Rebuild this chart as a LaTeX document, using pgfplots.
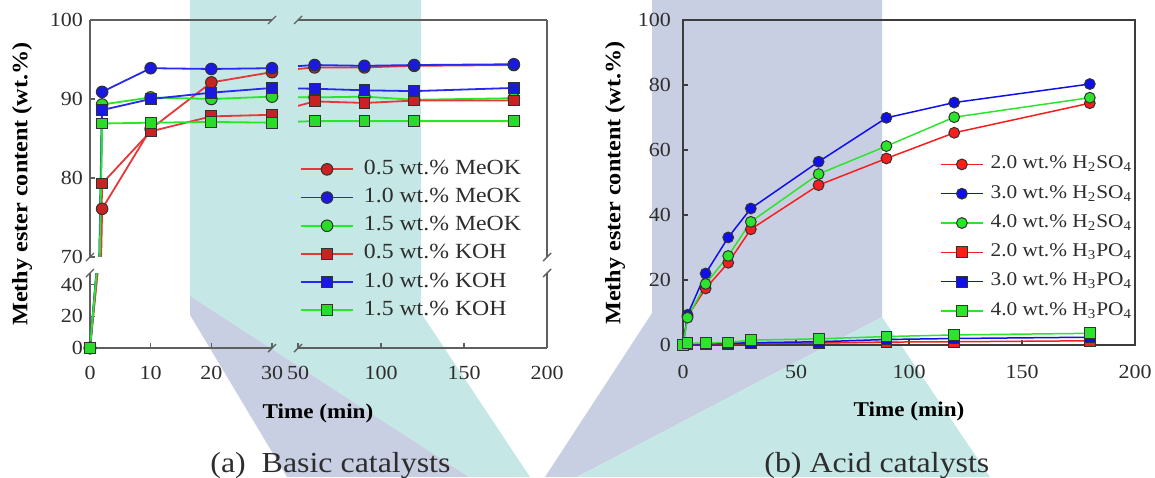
\documentclass[border=0pt]{standalone}
\usepackage{pgfplots}
\pgfplotsset{compat=1.18}
\usepackage{pgfplotstable}
\usepackage{fontspec}
\setmainfont{Liberation Serif}[FakeStretch=1.1]

\definecolor{wmTeal}{RGB}{197,232,230}
\definecolor{wmLav}{RGB}{201,207,226}
\definecolor{axA}{RGB}{95,95,95}
\definecolor{axB}{RGB}{60,60,60}
\definecolor{tickc}{RGB}{45,45,45}
\definecolor{mkd}{RGB}{50,50,50}
\definecolor{lnR}{RGB}{232,55,55}
\definecolor{fR}{RGB}{200,35,35}
\definecolor{lnB}{RGB}{40,40,240}
\definecolor{fB}{RGB}{25,25,225}
\definecolor{lnG}{RGB}{40,230,40}
\definecolor{fG}{RGB}{40,220,40}
\definecolor{bR}{RGB}{248,30,30}
\definecolor{bB}{RGB}{15,15,235}
\definecolor{bG}{RGB}{45,228,45}

\pgfplotstableread{
t m05 m10 m15 k05 k10 k15
0 0 0 0 0 0 0
2 76.1 90.9 89.3 79.3 88.6 86.9
10 86.2 93.9 90.2 85.9 90.0 87.0
20 92.1 93.8 90.0 87.8 90.8 87.1
30 93.4 93.9 90.3 88.0 91.4 87.0
60 94.0 94.3 90.2 89.7 91.3 87.2
90 94.0 94.2 90.3 89.5 91.1 87.2
120 94.2 94.3 89.9 89.8 91.0 87.2
180 94.3 94.4 90.1 89.8 91.4 87.2
}\dataA

\pgfplotstableread{
t s2 s3 s4 p2 p3 p4
0 0 0 0 0 0 0
2 8.8 9.3 8.4 0.2 0.3 0.5
10 17.4 22.0 18.8 0.3 0.4 0.6
20 25.3 33.1 27.4 0.4 0.5 0.8
30 35.6 42.0 37.9 0.5 0.7 1.5
60 49.2 56.4 52.6 0.6 1.0 1.9
90 57.4 69.9 61.2 0.9 1.7 2.6
120 65.3 74.6 70.1 1.0 2.0 3.1
180 74.4 80.3 76.1 1.3 2.4 3.6
}\dataB

\pgfplotsset{
  /pgf/number format/assume math mode=true,
  base/.style={scale only axis, anchor=south west,
    axis line style={draw=none}, tick align=inside, major tick length=2.5pt,
    tick style={draw=axA, line width=0.6pt},
    xtick pos=left, ytick pos=left,
    ticklabel style={font=\fontsize{10}{12}\selectfont, text=tickc},
    xticklabel style={yshift=-5.5pt},
    clip marker paths=false},
}

\newcommand\serA[5]{%
  \addplot[#2, line width=0.9pt, no markers, forget plot] table[x=t,y=#1]{\dataA};
  \addplot[rng, only marks, forget plot, mark=#4, mark size=#5,
    mark options={fill=#3, draw=mkd, line width=0.5pt}] table[x=t,y=#1]{\dataA};
}
\newcommand\allA{%
  \serA{m05}{lnR}{fR}{*}{2.9pt}
  \serA{m10}{lnB}{fB}{*}{2.9pt}
  \serA{m15}{lnG}{fG}{*}{2.9pt}
  \serA{k05}{lnR}{fR}{square*}{2.7pt}
  \serA{k10}{lnB}{fB}{square*}{2.7pt}
  \serA{k15}{lnG}{fG}{square*}{2.7pt}
}

\begin{document}
\begin{tikzpicture}
\useasboundingbox (0,0) rectangle (577.5pt,-238.5pt);
% background watermark
\begin{scope}[x=0.5pt,y=-0.5pt]
\fill[wmTeal] (190,0) -- (421,0) -- (421,313) -- (530,477) -- (469,477) -- (190,296) -- cycle;
\fill[wmLav] (190,296) -- (469,477) -- (287,477) -- (190,315) -- cycle;
\fill[wmLav] (652,0) -- (882,0) -- (882,317) -- (577,477) -- (545,477) -- (652,313) -- cycle;
\fill[wmTeal] (882,317) -- (990,477) -- (577,477) -- cycle;
% frame of panel (a) with breaks
\begin{scope}[draw=axA, line width=0.7pt]
\draw (90,20) -- (90,257); \draw (90,273) -- (90,348);
\draw (90,20) -- (272,20); \draw (298,20) -- (547,20);
\draw (90,348) -- (272,348); \draw (298,348) -- (547,348);
\draw (547,20) -- (547,257); \draw (547,273) -- (547,348);
\foreach \p in {(272,20),(298,20),(272,348),(298,348),(90,257),(90,273),(547,257),(547,273)}
  \draw \p ++(-4,4) -- ++(8,-8);
\end{scope}
\end{scope}

% (a) top-left
\begin{axis}[base, at={(45pt,-128.5pt)}, width=91pt, height=118.5pt,
  xmin=0, xmax=30, ymin=70, ymax=100, xtick=\empty, ytick={70,80,90,100},
  rng/.style={restrict x to domain=0:30, restrict y to domain=70:100}]
\allA
\end{axis}
% (a) bottom-left
\begin{axis}[base, at={(45pt,-174pt)}, width=91pt, height=37.5pt,
  xmin=0, xmax=30, ymin=0, ymax=47.5, xtick={0,10,20,30}, ytick={0,20,40},
  rng/.style={restrict x to domain=0:30, restrict y to domain=0:47.5}]
\allA
\end{axis}
% (a) top-right
\begin{axis}[base, at={(149pt,-128.5pt)}, width=124.5pt, height=118.5pt,
  xmin=50, xmax=200, ymin=70, ymax=100, xtick=\empty, ytick=\empty,
  rng/.style={restrict x to domain=50:200, restrict y to domain=70:100},
  legend image code/.code={\draw[mark repeat=2,mark phase=2,#1] plot coordinates {(0pt,0pt) (13pt,0pt) (26pt,0pt)};},
  legend cell align=left,
  legend style={draw=none, fill=none, inner sep=0pt, at={(0.007,0.431)}, anchor=north west,
    font=\fontsize{10.8}{13}\selectfont, text=tickc, row sep=0pt,
    nodes={inner sep=1.5pt, text height=8pt, text depth=3.1pt},
    /tikz/every odd column/.append style={column sep=3.5pt}}]
\allA
\addlegendimage{lnR, line width=0.9pt, mark=*, mark size=2.9pt, mark options={fill=fR, draw=mkd, line width=0.5pt}}
\addlegendentry{0.5 wt.\% MeOK}
\addlegendimage{lnB, line width=0.9pt, mark=*, mark size=2.9pt, mark options={fill=fB, draw=mkd, line width=0.5pt}}
\addlegendentry{1.0 wt.\% MeOK}
\addlegendimage{lnG, line width=0.9pt, mark=*, mark size=2.9pt, mark options={fill=fG, draw=mkd, line width=0.5pt}}
\addlegendentry{1.5 wt.\% MeOK}
\addlegendimage{lnR, line width=0.9pt, mark=square*, mark size=2.7pt, mark options={fill=fR, draw=mkd, line width=0.5pt}}
\addlegendentry{0.5 wt.\% KOH}
\addlegendimage{lnB, line width=0.9pt, mark=square*, mark size=2.7pt, mark options={fill=fB, draw=mkd, line width=0.5pt}}
\addlegendentry{1.0 wt.\% KOH}
\addlegendimage{lnG, line width=0.9pt, mark=square*, mark size=2.7pt, mark options={fill=fG, draw=mkd, line width=0.5pt}}
\addlegendentry{1.5 wt.\% KOH}
\end{axis}
% (a) bottom-right
\begin{axis}[base, at={(149pt,-174pt)}, width=124.5pt, height=37.5pt,
  xmin=50, xmax=200, ymin=0, ymax=47.5, xtick={50,100,150,200}, ytick=\empty]
\end{axis}

% (b)
\begin{axis}[base, at={(341.5pt,-172.5pt)}, width=226pt, height=162.5pt,
  xmin=0, xmax=200, ymin=0, ymax=100, xtick={0,50,100,150,200}, ytick={0,20,40,60,80,100},
  axis line style={draw=axB, line width=0.7pt}, tick style={draw=axB, line width=0.6pt},
  xticklabel style={yshift=-1pt}, yticklabel style={xshift=-2.5pt},
  legend image code/.code={\draw[mark repeat=2,mark phase=2,#1] plot coordinates {(0pt,0pt) (10.5pt,0pt) (21pt,0pt)};},
  legend cell align=left,
  legend style={draw=none, fill=none, inner sep=0pt, at={(0.568,0.602)}, anchor=north west,
    font=\fontsize{9.7}{12}\selectfont, text=tickc, row sep=0pt,
    nodes={inner sep=1.5pt, text height=8pt, text depth=3.65pt},
    /tikz/every odd column/.append style={column sep=2pt}}]
\addplot[bR, line width=0.75pt, mark=*, mark size=2.7pt, mark options={fill=bR, draw=mkd, line width=0.5pt}] table[x=t,y=s2]{\dataB};
\addlegendentry{2.0 wt.\% H\textsubscript{2}SO\textsubscript{4}}
\addplot[bB, line width=0.75pt, mark=*, mark size=2.7pt, mark options={fill=bB, draw=mkd, line width=0.5pt}] table[x=t,y=s3]{\dataB};
\addlegendentry{3.0 wt.\% H\textsubscript{2}SO\textsubscript{4}}
\addplot[bG, line width=0.75pt, mark=*, mark size=2.7pt, mark options={fill=bG, draw=mkd, line width=0.5pt}] table[x=t,y=s4]{\dataB};
\addlegendentry{4.0 wt.\% H\textsubscript{2}SO\textsubscript{4}}
\addplot[bR, line width=0.75pt, mark=square*, mark size=2.7pt, mark options={fill=bR, draw=mkd, line width=0.5pt}] table[x=t,y=p2]{\dataB};
\addlegendentry{2.0 wt.\% H\textsubscript{3}PO\textsubscript{4}}
\addplot[bB, line width=0.75pt, mark=square*, mark size=2.7pt, mark options={fill=bB, draw=mkd, line width=0.5pt}] table[x=t,y=p3]{\dataB};
\addlegendentry{3.0 wt.\% H\textsubscript{3}PO\textsubscript{4}}
\addplot[bG, line width=0.75pt, mark=square*, mark size=2.7pt, mark options={fill=bG, draw=mkd, line width=0.5pt}] table[x=t,y=p4]{\dataB};
\addlegendentry{4.0 wt.\% H\textsubscript{3}PO\textsubscript{4}}
\end{axis}

% labels and captions
\begin{scope}[x=0.5pt,y=-0.5pt]
\node[rotate=90, font=\bfseries\fontsize{11}{13}\selectfont] at (22,184) {Methy ester content (wt.\%)};
\node[anchor=base, font=\bfseries\fontsize{10.5}{12}\selectfont] at (318,418) {Time (min)};
\node[rotate=90, font=\bfseries\fontsize{11}{13}\selectfont] at (615,183) {Methy ester content (wt.\%)};
\node[anchor=base, font=\bfseries\fontsize{10.5}{12}\selectfont] at (909,416) {Time (min)};
\node[anchor=base west, inner sep=0pt, text=tickc, font=\fontsize{14.5}{17}\selectfont] at (210,472) {(a)\ \ Basic catalysts};
\node[anchor=base west, inner sep=0pt, text=tickc, font=\fontsize{14.5}{17}\selectfont] at (764,472) {(b) Acid catalysts};
\end{scope}
\end{tikzpicture}
\end{document}
